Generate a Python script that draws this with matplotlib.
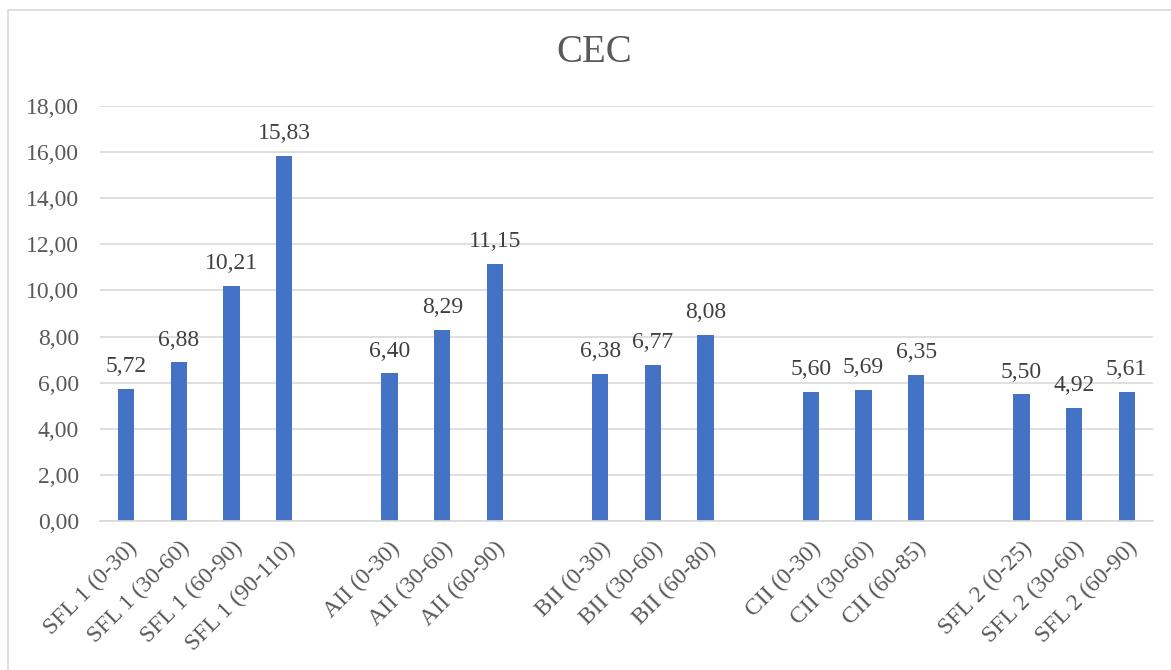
import matplotlib
matplotlib.use("Agg")
import matplotlib.pyplot as plt
from matplotlib.patches import Rectangle
from matplotlib.ticker import FuncFormatter

categories = ["SFL 1 (0-30)", "SFL 1 (30-60)", "SFL 1 (60-90)", "SFL 1 (90-110)", "",
              "AII (0-30)", "AII (30-60)", "AII (60-90)", "",
              "BII (0-30)", "BII (30-60)", "BII (60-80)", "",
              "CII (0-30)", "CII (30-60)", "CII (60-85)", "",
              "SFL 2 (0-25)", "SFL 2 (30-60)", "SFL 2 (60-90)"]
values = [5.72, 6.88, 10.21, 15.83, None,
          6.40, 8.29, 11.15, None,
          6.38, 6.77, 8.08, None,
          5.60, 5.69, 6.35, None,
          5.50, 4.92, 5.61]
yticks = [0, 2, 4, 6, 8, 10, 12, 14, 16, 18]

plt.rcParams['font.family'] = ['Liberation Serif', 'DejaVu Serif']

W, H = 1171, 670
fig = plt.figure(figsize=(W / 100, H / 100), dpi=100)
fig.patches.append(Rectangle((7.5 / W, -10 / H), (W + 20) / W, (H - 10 + 10) / H,
                             transform=fig.transFigure, fill=False,
                             edgecolor='#d9d9d9', linewidth=1.2))

left, right, top, bottom = 100, 1153, 106, 521
ax = fig.add_axes([left / W, 1 - bottom / H, (right - left) / W, (bottom - top) / H])

x = list(range(len(categories)))
bx = [i for i, v in zip(x, values) if v is not None]
bv = [v for v in values if v is not None]
ax.bar(bx, bv, width=0.31, color='#4472c4', zorder=3)
for xi, v in zip(bx, bv):
    ax.annotate(f"{v:.2f}".replace('.', ','), (xi, v), xytext=(0, 12),
                textcoords='offset points', ha='center', va='baseline',
                fontsize=17, color='#404040')

ax.set_xlim(-0.5, len(categories) - 0.5)
ax.set_ylim(0, 18)
ax.set_yticks(yticks)
ax.yaxis.set_major_formatter(FuncFormatter(lambda v, p: f"{v:.2f}".replace('.', ',')))
ax.grid(axis='y', color='#d9d9d9', linewidth=1.2, zorder=0)
for s in ['top', 'right', 'left']:
    ax.spines[s].set_visible(False)
ax.spines['bottom'].set_color('#d9d9d9')
ax.spines['bottom'].set_linewidth(1.2)
ax.spines['bottom'].set_zorder(4)
ax.tick_params(axis='both', length=0, labelsize=17, labelcolor='#595959')
ax.tick_params(axis='y', pad=15)
ax.set_xticks(x)
ax.set_xticklabels(categories, rotation=45, ha='right', va='top', rotation_mode='anchor')
ax.tick_params(axis='x', pad=12)

fig.text(594 / W, 1 - 52.5 / H, "CEC", ha='center', va='center',
         fontsize=28, color='#595959')

fig.savefig("out.png", dpi=100)
